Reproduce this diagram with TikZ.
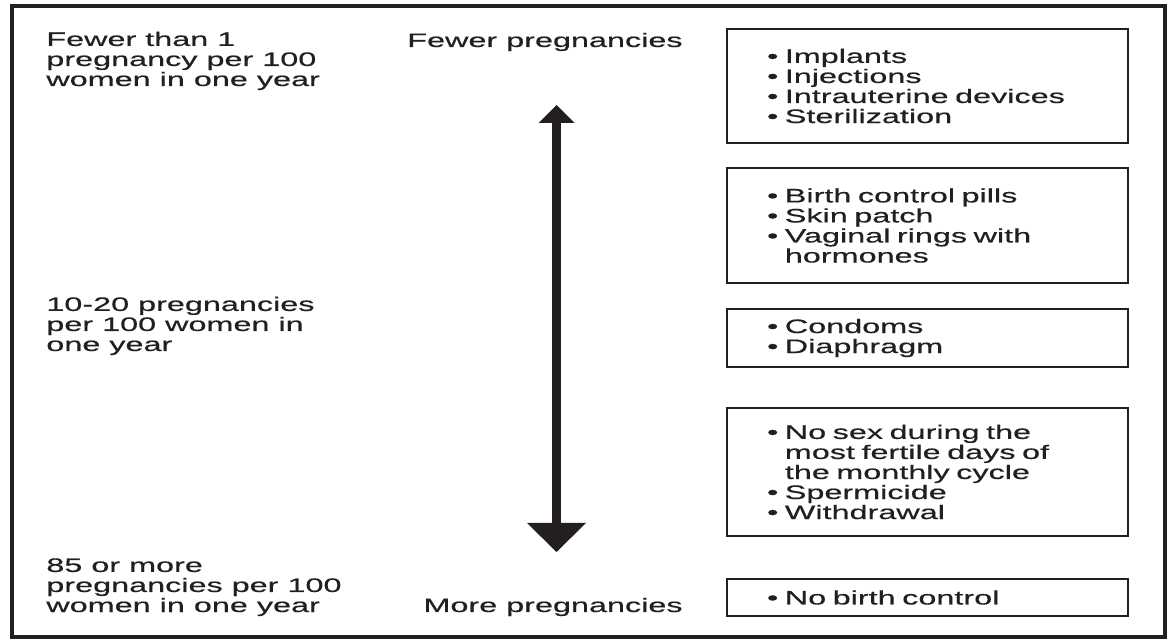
\documentclass[tikz,border=0pt]{standalone}
\usepackage{fontspec}
\setmainfont[FakeStretch=1.66,FakeBold=0.5]{Liberation Sans}
\usetikzlibrary{arrows.meta}
\definecolor{inkgray}{HTML}{231F20}
\newcommand{\methoditem}{\textbullet\ }
\newcommand{\methodgap}{\phantom{\textbullet\ }}

\begin{document}
\begin{tikzpicture}[
    ratetext/.style={align=left, inner sep=0pt, anchor=base west, text=inkgray},
    endtext/.style={inner sep=0pt, anchor=base east, text=inkgray},
    methodbox/.style={draw=inkgray, line width=0.03cm, text=inkgray, text width=6.42cm,
      inner xsep=0.8cm, inner ysep=0pt, align=left, minimum width=8.02cm},
    scalearrow/.style={draw=inkgray, line width=0.17cm,
      {Triangle[width=0.72cm,length=0.36cm,line width=0pt]}-{Triangle[width=1.18cm,length=0.58cm,line width=0pt]}}
  ]
  \useasboundingbox (0,0) rectangle (23.42,12.88);
  {\fontsize{11.1}{11.4}\selectfont

  % Drawing frame
  \draw [draw=inkgray, line width=0.08cm] (0.24,0.14) rectangle (23.29,12.76);%

  % Marking rate labels on the left (base is the last line)
  \node [ratetext] (lowrate) at (0.92,11.16) {Fewer than 1\\pregnancy per 100\\women in one year};%
  \node [ratetext] (midrate) at (0.92,5.86) {10-20 pregnancies\\per 100 women in\\one year};%
  \node [ratetext] (highrate) at (0.92,0.64) {85 or more\\pregnancies per 100\\women in one year};%

  % Marking ends of the scale
  \node [endtext] (fewer) at (13.66,11.94) {Fewer pregnancies};%
  \node [endtext] (more) at (13.66,0.64) {More pregnancies};%

  % Drawing scale arrow
  \coordinate (fewertip) at (11.13,10.78);%
  \coordinate (moretip) at (11.13,1.84);%
  \draw [scalearrow] (fewertip) -- (moretip);%

  % Marking method boxes
  \node [methodbox, minimum height=2.28cm] (longacting) at (18.55,11.16)
    {\methoditem Implants\\
     \methoditem Injections\\
     \methoditem Intrauterine devices\\
     \methoditem Sterilization};%
  \node [methodbox, minimum height=2.30cm] (hormonal) at (18.55,8.37)
    {\methoditem Birth control pills\\
     \methoditem Skin patch\\
     \methoditem Vaginal rings with\\
     \methodgap hormones};%
  \node [methodbox, minimum height=1.16cm] (barrier) at (18.55,6.12)
    {\methoditem Condoms\\
     \methoditem Diaphragm};%
  \node [methodbox, minimum height=2.56cm] (behavior) at (18.55,3.44)
    {\methoditem No sex during the\\
     \methodgap most fertile days of\\
     \methodgap the monthly cycle\\
     \methoditem Spermicide\\
     \methoditem Withdrawal};%
  \node [methodbox, minimum height=0.74cm] (nomethod) at (18.55,0.93)
    {\methoditem No birth control};%
  }
\end{tikzpicture}
\end{document}
